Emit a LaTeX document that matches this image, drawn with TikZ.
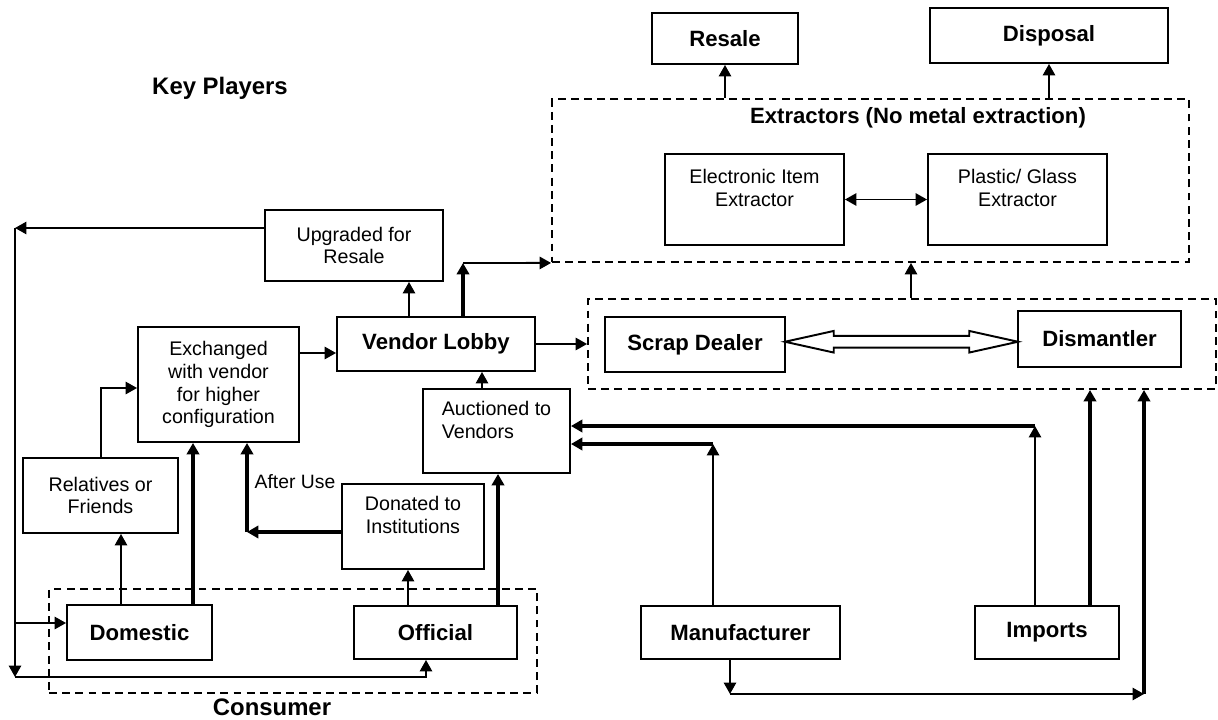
\documentclass[tikz,border=0pt]{standalone}
\usepackage{fontspec}
\setmainfont{Liberation Sans}
\usepackage{tikz}
\usetikzlibrary{shapes,arrows,arrows.meta,positioning,calc}
\usetikzlibrary{shapes.arrows}

\begin{document}
\begin{tikzpicture}[x=0.02cm,y=-0.02cm,line width=1.1pt,>={Triangle[length=6.5pt,width=7pt]},
  box/.style={shape=rectangle,draw=black,align=center,inner sep=2pt,font=\fontsize{11.2}{13}\selectfont},
  boldbox/.style={box,font=\fontsize{12.6}{14}\selectfont\bfseries},
  group/.style={shape=rectangle,draw=black,dash pattern=on 4.5pt off 3pt},
  heavy/.style={line width=1.8pt}]
\useasboundingbox (0,0) rectangle (1218,720);

%title
\node [font=\fontsize{13.6}{15}\selectfont\bfseries] at (220,88) (key) {Key Players};

%draw end of chain
\node [boldbox,minimum width=2.92cm,minimum height=1.02cm] at (725,38.5) (resale) {Resale};
\node [boldbox,minimum width=4.76cm,minimum height=1.1cm] at (1049,35.5) (disposal) {Disposal};

%extractors
\node [group,minimum width=12.74cm,minimum height=3.26cm] at (870.5,180.5) (extr) {};
\node [font=\fontsize{12.6}{14}\selectfont\bfseries] at (918,118) (extrtitle) {Extractors (No metal extraction)};
\node [box,minimum width=3.58cm,minimum height=1.82cm] at (754.5,199.5) (elec) {Electronic Item\\Extractor\\~};
\node [box,minimum width=3.58cm,minimum height=1.82cm] at (1017.5,199.5) (plastic) {Plastic/ Glass\\Extractor\\~};

%vendors
\node [box,minimum width=3.56cm,minimum height=1.42cm] at (354,245.5) (upgraded) {Upgraded for\\Resale};
\node [boldbox,minimum width=3.96cm,minimum height=1.08cm] at (436,344) (vendor) {Vendor Lobby};
\node [box,minimum width=3.22cm,minimum height=2.3cm] at (218.5,384.5) (exch) {Exchanged\\with vendor\\for higher\\configuration};
\node [box,align=left,minimum width=2.94cm,minimum height=1.68cm] at (496.5,431) (auction) {Auctioned to\\Vendors\\~};

%scrap dealer and dismantler
\node [group,minimum width=12.56cm,minimum height=1.8cm] at (902,344) (scrapgrp) {};
\node [boldbox,minimum width=3.6cm,minimum height=1.1cm] at (695,344.5) (scrap) {Scrap Dealer};
\node [boldbox,minimum width=3.26cm,minimum height=1.12cm] at (1099.5,339) (dism) {Dismantler};

%consumer and sources
\node [box,minimum width=3.1cm,minimum height=1.5cm] at (100.5,495.5) (relatives) {Relatives or\\Friends};
\node [box,minimum width=2.84cm,minimum height=1.7cm] at (413,526.5) (donated) {Donated to\\Institutions\\~};
\node [font=\fontsize{11}{13}\selectfont,anchor=west,inner sep=1pt] at (252,482) (afteruse) {After Use};
\node [group,minimum width=9.76cm,minimum height=2.08cm] at (293,641) (consgrp) {};
\node [font=\fontsize{13.6}{15}\selectfont\bfseries] at (272,707) (conslabel) {Consumer};
\node [boldbox,minimum width=2.9cm,minimum height=1.1cm] at (139.5,632.5) (domestic) {Domestic};
\node [boldbox,minimum width=3.26cm,minimum height=1.06cm] at (435.5,632.5) (official) {Official};
\node [boldbox,minimum width=3.98cm,minimum height=1.06cm] at (740.5,632.5) (manuf) {Manufacturer};
\node [boldbox,minimum width=2.88cm,minimum height=1.06cm] at (1047,632.5) (imports) {Imports};

%edges inside the extractors
\draw [->] (extr.north -| resale.south) -- (resale.south);
\draw [->] (extr.north -| disposal.south) -- (disposal.south);
\draw [<->] (elec) edge (plastic);
\coordinate (se) at (911,280);
\draw [->] (scrapgrp.north -| se) -- (extr.south -| se);

%hollow double arrow
\node [double arrow,draw=black,fill=white,inner xsep=0pt,inner ysep=2.8pt,double arrow head extend=2.8pt,
  double arrow tip angle=25,minimum height=4.66cm] at ($(scrap.east)!0.5!(dism.west)$) (swap) {};

%edges out of vendor lobby
\draw [->] (vendor.east) -- (scrapgrp.west);
\coordinate (vu) at (409,300);
\draw [->] (vendor.north -| vu) -- (upgraded.south -| vu);
\coordinate (vx) at (463,263);
\draw [->,heavy] (vendor.north -| vx) -- (vx);
\draw [->] (vx) -- (extr.south west);
\coordinate (ev) at (300,353);
\draw [->] (exch.east |- ev) -- (vendor.west |- ev);

%upgraded goes back to consumer
\coordinate (lt) at (15,228);
\coordinate (lm) at (15,623);
\coordinate (lb) at (15,677);
\coordinate (lo) at (426,677);
\draw [->] (upgraded.west |- lt) -- (lt);
\draw [->] (lt) -- (lb);
\draw [->] (lb) -- (lo) -- (official.south -| lo);
\draw [->] (lm) -- (domestic.west |- lm);

%edges from consumer
\coordinate (rx) at (101,388);
\draw [->] (relatives.north -| rx) -- (rx) -- (exch.west |- rx);
\coordinate (dr) at (121,560);
\draw [->] (domestic.north -| dr) -- (relatives.south -| dr);
\coordinate (de) at (193,560);
\draw [->,heavy] (domestic.north -| de) -- (exch.south -| de);
\coordinate (dx) at (247,532);
\draw [->,heavy] (donated.west |- dx) -- (dx);
\draw [->,heavy] (dx) -- (exch.south -| dx);
\coordinate (od) at (408,580);
\draw [->] (official.north -| od) -- (donated.south -| od);
\coordinate (oa) at (498,580);
\draw [->,heavy] (official.north -| oa) -- (auction.south -| oa);
\coordinate (av) at (482,380);
\draw [->] (auction.north -| av) -- (vendor.south -| av);

%edges from manufacturer and imports
\coordinate (ma) at (713,444);
\draw [->] (manuf.north -| ma) -- (ma);
\draw [->,heavy] (ma) -- (auction.east |- ma);
\coordinate (ia) at (1035,426);
\draw [->] (imports.north -| ia) -- (ia);
\draw [->,heavy] (ia) -- (auction.east |- ia);
\coordinate (is) at (1090,500);
\draw [->,heavy] (imports.north -| is) -- (scrapgrp.south -| is);
\coordinate (mb) at (730,694);
\coordinate (mr) at (1144,694);
\draw [->] (manuf.south -| mb) -- (mb);
\draw [->] (mb) -- (mr);
\draw [->,heavy] (mr) -- (scrapgrp.south -| mr);

\end{tikzpicture}
\end{document}
